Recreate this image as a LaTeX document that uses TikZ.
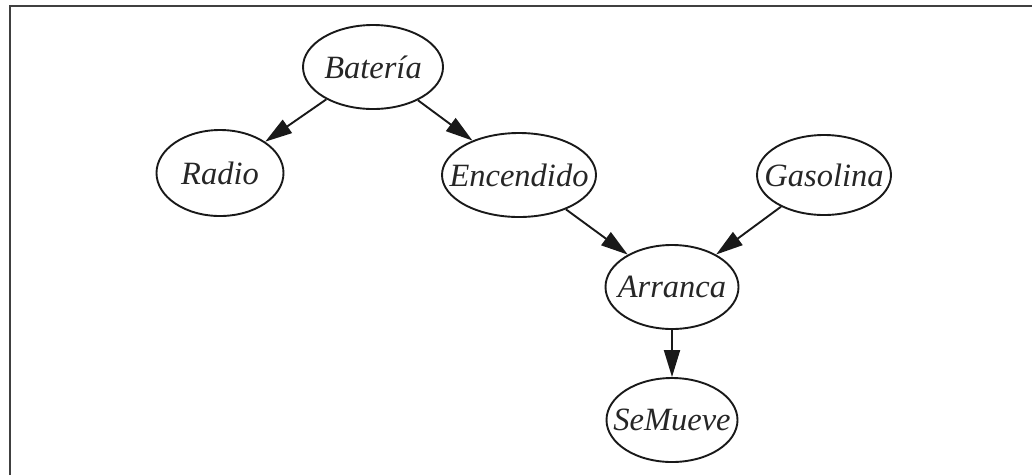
\documentclass[tikz,border=0pt]{standalone}
\usepackage{fontspec}
\setmainfont{Liberation Serif}
\usetikzlibrary{shapes.geometric,arrows.meta}
\newcommand{\lbl}[1]{\makebox[0pt]{#1}}
\begin{document}
\begin{tikzpicture}[x=1pt,y=-1pt,
  bnode/.style={draw=black!90,ellipse,line width=1.9pt,inner sep=0pt,
    font=\fontsize{32.5}{36}\selectfont\itshape,text=black!85},
  edge/.style={line width=1.9pt,draw=black!90,
    -{Triangle[length=27pt,width=16pt]}}]
\useasboundingbox (0,0) rectangle (1032,475);
\draw[line width=2.5pt,black!75] (10,475) -- (10,6) -- (1032,6);
\node[bnode,minimum width=140pt,minimum height=84pt] (bat) at (373,67) {\lbl{Batería}};
\node[bnode,minimum width=127pt,minimum height=86pt] (rad) at (220,173) {\lbl{Radio}};
\node[bnode,minimum width=154pt,minimum height=84pt] (enc) at (519,175) {\lbl{Encendido}};
\node[bnode,minimum width=134pt,minimum height=80pt] (gas) at (824,175) {\lbl{Gasolina}};
\node[bnode,minimum width=133pt,minimum height=84pt] (arr) at (672,287) {\lbl{Arranca}};
\node[bnode,minimum width=131pt,minimum height=84pt] (sem) at (672,420) {\lbl{SeMueve}};
\draw[edge] (bat) -- (rad);
\draw[edge] (bat) -- (enc);
\draw[edge] (enc) -- (arr);
\draw[edge] (gas) -- (arr);
\draw[edge] (arr) -- (sem);
\end{tikzpicture}
\end{document}
